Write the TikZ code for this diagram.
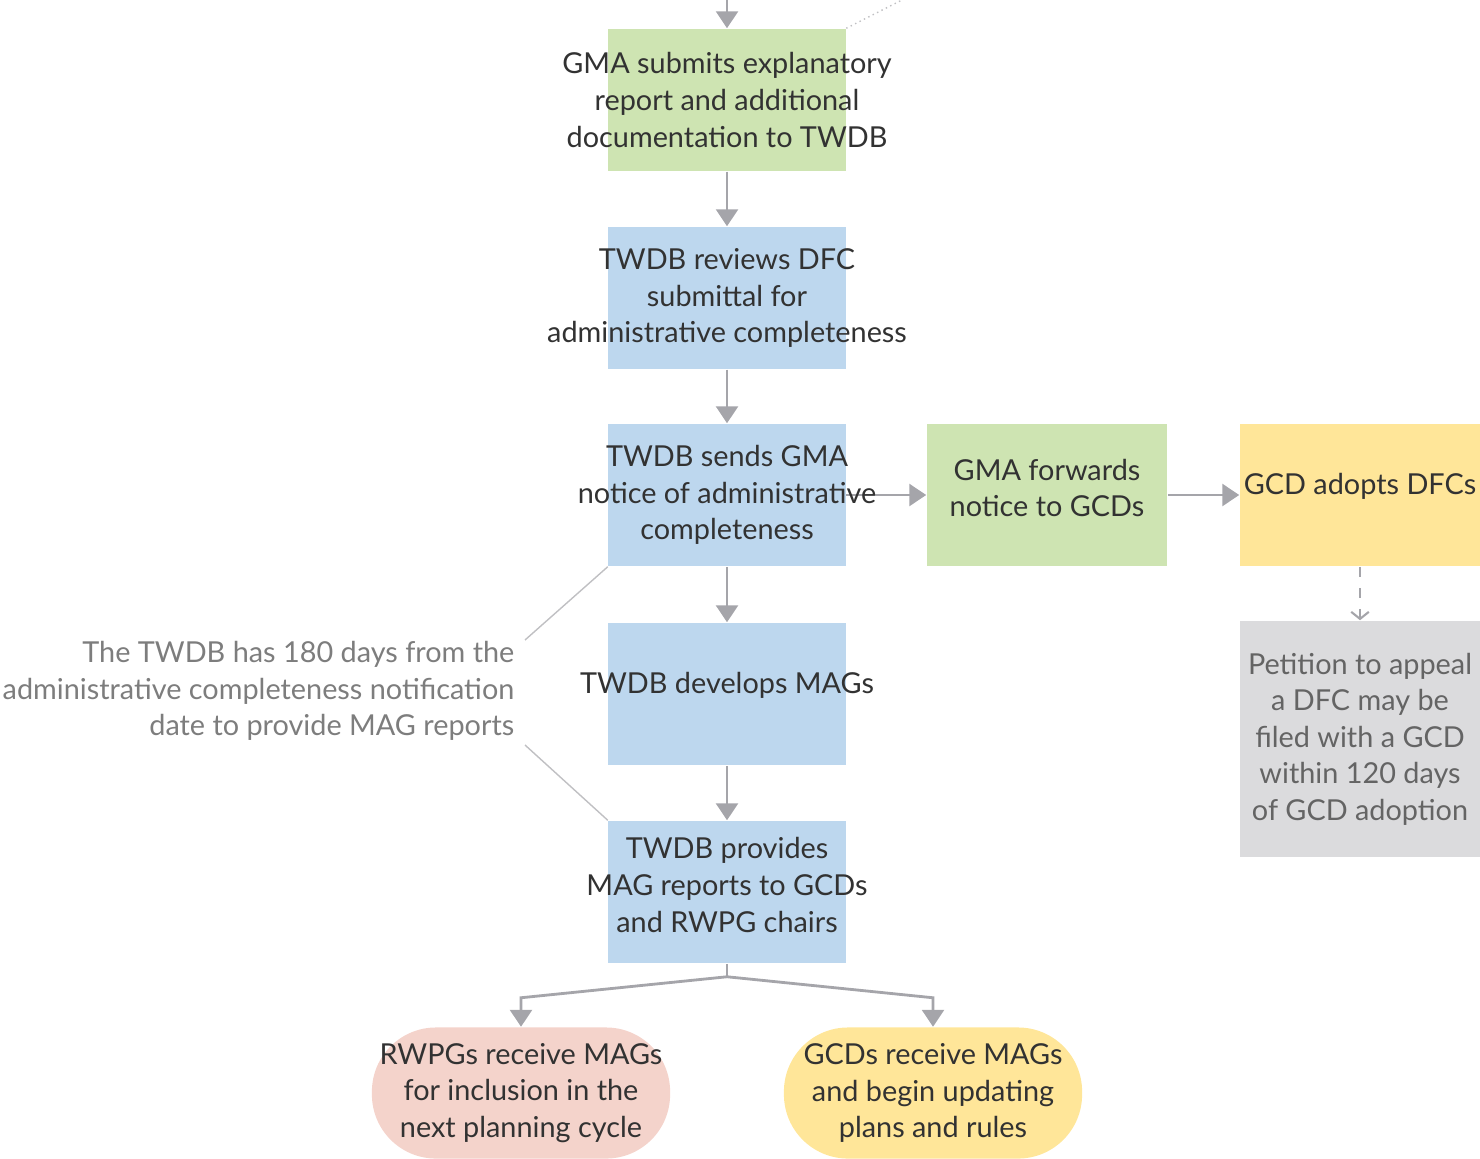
\documentclass[tikz,border=0pt]{standalone}
\usepackage{fontspec}
\setmainfont{Lato}
\usetikzlibrary{arrows.meta}
\definecolor{gmagreen}{RGB}{206,228,178}
\definecolor{twdbblue}{RGB}{189,215,238}
\definecolor{gcdyellow}{RGB}{255,230,153}
\definecolor{rwpgpink}{RGB}{244,211,203}
\definecolor{appealgray}{RGB}{219,219,221}
\definecolor{linegray}{RGB}{165,165,170}
\definecolor{boxink}{RGB}{50,50,50}
\definecolor{noteink}{RGB}{125,125,125}
\tikzset{
  flowbox/.style={rectangle, minimum width=2.37cm, minimum height=1.42cm, inner sep=0pt},
  endbox/.style={rectangle, rounded corners=0.64cm, minimum width=2.98cm, minimum height=1.31cm, inner sep=0pt},
  boxtext/.style={align=center, text=boxink, inner sep=0pt, font=\fontsize{8.2}{10.4}\selectfont},
  flowarrow/.style={draw=linegray, line width=0.8pt, -{Triangle[length=4.8pt,width=6.2pt]}},
  noteline/.style={draw=linegray!70, line width=0.4pt},
}
\begin{document}
\begin{tikzpicture}[x=0.01cm, y=-0.01cm]
  \useasboundingbox (0,0) rectangle (1480,1158);
  % boxes
  \node[flowbox, fill=gmagreen] (b1) at (727,100) {};
  \node[flowbox, fill=twdbblue] (b2) at (727,298) {};
  \node[flowbox, fill=twdbblue] (b3) at (727,495) {};
  \node[flowbox, fill=twdbblue] (b4) at (727,694) {};
  \node[flowbox, fill=twdbblue] (b5) at (727,892) {};
  \node[flowbox, fill=gmagreen, minimum width=2.40cm] (fw) at (1047,495) {};
  \node[flowbox, fill=gcdyellow, minimum width=2.40cm] (ad) at (1360,495) {};
  \node[flowbox, fill=appealgray, minimum width=2.40cm, minimum height=2.36cm] (ap) at (1360,739) {};
  \node[endbox, fill=rwpgpink] (rw) at (521,1093) {};
  \node[endbox, fill=gcdyellow] (gc) at (933,1093) {};
  % connectors
  \coordinate (in) at (727,0);
  \coordinate (tl) at (902,0);
  \draw[flowarrow] (in) -- (b1.north);
  \draw[noteline, densely dotted] (b1.north east) -- (tl);
  \draw[flowarrow] (b1) -- (b2);
  \draw[flowarrow] (b2) -- (b3);
  \draw[flowarrow] (b3) -- (b4);
  \draw[flowarrow] (b4) -- (b5);
  \draw[flowarrow] (b3) -- (fw);
  \draw[flowarrow] (fw) -- (ad);
  \draw[draw=linegray, line width=0.6pt, dashed, -{Straight Barb[length=2pt,width=5pt]}] (ad) -- (ap);
  \draw[draw=linegray, line width=0.8pt] (b5.south) -- ++(0,13) coordinate (split);
  \draw[flowarrow] (split) -- ([yshift=0.29cm]rw.north) -- (rw.north);
  \draw[flowarrow] (split) -- ([yshift=0.29cm]gc.north) -- (gc.north);
  % texts
  \node[boxtext] (b1t) at (b1) {GMA submits explanatory\\report and additional\\documentation to TWDB};
  \node[boxtext] (b2t) at (b2) {TWDB reviews DFC\\submittal for\\administrative completeness};
  \node[boxtext] (b3t) at (b3) {TWDB sends GMA\\notice of administrative\\completeness};
  \node[boxtext] (b4t) at ([yshift=0.09cm]b4) {TWDB develops MAGs};
  \node[boxtext] (b5t) at ([yshift=0.07cm]b5) {TWDB provides\\MAG reports to GCDs\\and RWPG chairs};
  \node[boxtext] (fwt) at ([yshift=0.07cm]fw) {GMA forwards\\notice to GCDs};
  \node[boxtext] (adt) at ([yshift=0.09cm]ad) {GCD adopts DFCs};
  \node[boxtext, text=noteink!80!black] (apt) at (ap) {Petition to appeal\\a DFC may be\\filed with a GCD\\within 120 days\\of GCD adoption};
  \node[boxtext] (rwt) at (rw) {RWPGs receive MAGs\\for inclusion in the\\next planning cycle};
  \node[boxtext] (gct) at (gc) {GCDs receive MAGs\\and begin updating\\plans and rules};
  % side note
  \node[boxtext, text=noteink, align=right, anchor=east] (note) at (515,691) {The TWDB has 180 days from the\\administrative completeness notification\\date to provide MAG reports};
  \coordinate (nt) at (525,640);
  \coordinate (nb) at (525,745);
  \draw[noteline] (nt) -- (b3.south west);
  \draw[noteline] (nb) -- (b5.north west);
\end{tikzpicture}
\end{document}
